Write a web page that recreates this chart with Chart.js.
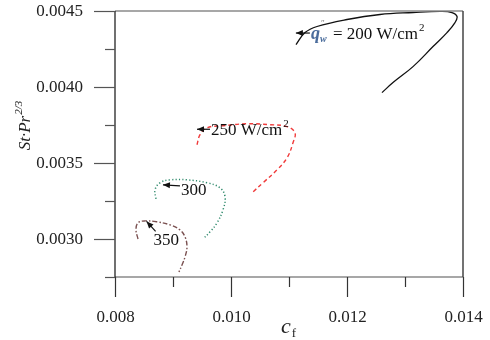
<!DOCTYPE html>
<html><head><meta charset="utf-8">
<script src="https://cdn.jsdelivr.net/npm/chart.js@4.4.1/dist/chart.umd.min.js"></script>
<style>html,body{margin:0;padding:0;background:#fff}#wrap{width:490px;height:340px}</style>
</head><body><div id="wrap"><canvas id="c" width="490" height="340"></canvas></div>
<script>
// ---- data ----
const cf200 = [0.011121,0.011276,0.011483,0.012000,0.012569,0.013138,0.013603,0.013810,0.013897,0.013862,0.013724,0.013483,0.013138,0.012793,0.012603];
const st200 = [0.004279,0.004358,0.004398,0.004444,0.004477,0.004490,0.004497,0.004490,0.004464,0.004424,0.004358,0.004266,0.004134,0.004029,0.003963];
const cf250 = [0.009414,0.009466,0.009586,0.009862,0.010276,0.010672,0.010966,0.011103,0.011069,0.010966,0.010793,0.010552,0.010379];
const st250 = [0.003620,0.003686,0.003732,0.003745,0.003758,0.003752,0.003739,0.003699,0.003633,0.003534,0.003455,0.003370,0.003310];
const cf300 = [0.008707,0.008690,0.008776,0.008948,0.009241,0.009586,0.009810,0.009897,0.009862,0.009759,0.009638,0.009517];
const st300 = [0.003264,0.003323,0.003370,0.003389,0.003389,0.003370,0.003337,0.003277,0.003192,0.003106,0.003047,0.003000];
const cf350 = [0.008397,0.008362,0.008397,0.008517,0.008724,0.008948,0.009121,0.009207,0.009241,0.009207,0.009155,0.009103];
const st350 = [0.003000,0.003060,0.003106,0.003119,0.003113,0.003093,0.003060,0.003014,0.002948,0.002882,0.002829,0.002783];
const seriesLabels = ['200 W/cm²','250 W/cm²','300','350'];
const xMajorTicks = [0.008,0.010,0.012,0.014];
const xMinorTicks = [0.009,0.011,0.013];
const yMajorTicks = [0.0030,0.0035,0.0040,0.0045];
const yMinorTicks = [0.00275,0.00325,0.00375,0.00425];

const pts = (xs, ys) => xs.map((x,i)=>({x:x,y:ys[i]}));
const SERIF = '"Liberation Serif","Times New Roman",serif';

const ds = (label, xs, ys, color, dash, w) => ({
  label, data: pts(xs,ys), showLine:true, borderColor:color, borderWidth:w,
  borderDash:dash, pointRadius:0, tension:0.4, fill:false
});

function isIn(v, arr){ return arr.some(a=>Math.abs(a-v)<1e-9); }

const framePlugin = {
  id:'frame',
  afterDraw(chart){
    const ctx = chart.ctx, a = chart.chartArea, xs = chart.scales.x, ys = chart.scales.y;
    ctx.save();
    // borders
    ctx.lineWidth = 1.5; ctx.strokeStyle = '#8a8a8a';
    ctx.beginPath(); ctx.moveTo(a.left, a.top); ctx.lineTo(a.right, a.top); ctx.stroke();
    ctx.beginPath(); ctx.moveTo(a.left, a.bottom); ctx.lineTo(a.right, a.bottom); ctx.stroke();
    ctx.strokeStyle = '#444'; ctx.lineWidth = 1.5;
    ctx.beginPath(); ctx.moveTo(a.right, a.top); ctx.lineTo(a.right, a.bottom); ctx.stroke();
    // left axis
    ctx.strokeStyle = '#111'; ctx.lineWidth = 1.2;
    ctx.beginPath(); ctx.moveTo(a.left, a.top); ctx.lineTo(a.left, a.bottom); ctx.stroke();
    // y ticks + labels
    ctx.strokeStyle = '#555'; ctx.lineWidth = 1.2;
    ctx.fillStyle = '#222'; ctx.font = '17px '+SERIF; ctx.textAlign='right'; ctx.textBaseline='middle';
    yMajorTicks.concat(yMinorTicks).forEach(v=>{
      const p = Math.round(ys.getPixelForValue(v))+0.5;
      const major = isIn(v,yMajorTicks);
      const L = major?21:10;
      ctx.beginPath(); ctx.moveTo(a.left-L, p); ctx.lineTo(a.left, p); ctx.stroke();
      if (major) ctx.fillText(v.toFixed(4), a.left-32, p);
    });
    // x ticks + labels
    ctx.strokeStyle = '#333'; ctx.textAlign='center';
    xMajorTicks.concat(xMinorTicks).forEach(v=>{
      const p = Math.round(xs.getPixelForValue(v))+0.5;
      const major = isIn(v,xMajorTicks);
      const L = major?20:10;
      ctx.beginPath(); ctx.moveTo(p, a.bottom); ctx.lineTo(p, a.bottom+L); ctx.stroke();
      if (major) ctx.fillText(v.toFixed(3), p, a.bottom+41);
    });
    // axis titles
    ctx.fillStyle = '#222';
    ctx.save();
    ctx.translate(26, (a.top+a.bottom)/2 - 18);
    ctx.rotate(-Math.PI/2);
    ctx.font = 'italic 17px '+SERIF;
    ctx.textBaseline = 'middle';
    const t1 = 'St·Pr';
    const w1 = ctx.measureText(t1).width;
    ctx.font = 'italic 11px '+SERIF;
    const w2 = ctx.measureText('2/3').width;
    const start = -(w1+w2)/2;
    ctx.font = 'italic 17px '+SERIF; ctx.textAlign='left';
    ctx.fillText(t1, start, 0);
    ctx.font = 'italic 11px '+SERIF;
    ctx.fillText('2/3', start+w1+1, -7);
    ctx.restore();
    ctx.font = 'italic 22px '+SERIF; ctx.textAlign='left'; ctx.textBaseline='alphabetic';
    const cx = (a.left+a.right)/2;
    const wc = ctx.measureText('c').width;
    ctx.fillText('c', cx-8, 333);
    ctx.font = '13px '+SERIF;
    ctx.fillText('f', cx-8+wc+1, 337);
    // annotations
    const arrow = (x1,y1,x2,y2) => {
      ctx.strokeStyle='#111'; ctx.fillStyle='#111'; ctx.lineWidth=1.2;
      ctx.beginPath(); ctx.moveTo(x1,y1); ctx.lineTo(x2,y2); ctx.stroke();
      const ang = Math.atan2(y2-y1,x2-x1), hl=7, hw=3;
      ctx.beginPath();
      ctx.moveTo(x2,y2);
      ctx.lineTo(x2-hl*Math.cos(ang)+hw*Math.sin(ang), y2-hl*Math.sin(ang)-hw*Math.cos(ang));
      ctx.lineTo(x2-hl*Math.cos(ang)-hw*Math.sin(ang), y2-hl*Math.sin(ang)+hw*Math.cos(ang));
      ctx.closePath(); ctx.fill();
    };
    const X = v=>xs.getPixelForValue(v), Y = v=>ys.getPixelForValue(v);
    ctx.textBaseline='middle'; ctx.textAlign='left';
    // 200
    let ax = X(0.01136), ay = Y(0.004355);
    arrow(ax, ay, ax-14, ay);
    ctx.fillStyle='#4a6c9c'; ctx.font='bold italic 18px '+SERIF;
    ctx.fillText('q', ax+1, ay+1);
    ctx.font='bold italic 10px '+SERIF; ctx.fillText('w', ax+10, ay+6);
    ctx.font='9px '+SERIF; ctx.fillStyle='#777'; ctx.fillText('″', ax+11, ay-9);
    ctx.fillStyle='#111'; ctx.font='17px '+SERIF;
    ctx.fillText('= 200 W/cm', ax+23, ay+1);
    let wt = ctx.measureText('= 200 W/cm').width;
    ctx.font='11px '+SERIF; ctx.fillText('2', ax+23+wt+1, ay-5);
    // 250
    ax = X(0.009638); ay = Y(0.003722);
    arrow(ax, ay, ax-13, ay);
    ctx.fillStyle='#111'; ctx.font='17px '+SERIF;
    ctx.fillText('250 W/cm', ax+1, ay+1);
    wt = ctx.measureText('250 W/cm').width;
    ctx.font='11px '+SERIF; ctx.fillText('2', ax+2+wt, ay-5);
    // 300
    ax = X(0.00912); ay = Y(0.003350);
    arrow(ax, ay, ax-17, ay-1);
    ctx.fillStyle='#111'; ctx.font='17px '+SERIF;
    ctx.fillText('300', ax+1, Y(0.003322));
    // 350
    ax = X(0.00870); ay = Y(0.003050);
    arrow(ax, ay, ax-9, ay-10);
    ctx.fillStyle='#111'; ctx.font='17px '+SERIF;
    ctx.fillText('350', ax-2, Y(0.002988));
    ctx.restore();
  }
};

new Chart(document.getElementById('c'), {
  type:'scatter',
  data:{ datasets:[
    ds(seriesLabels[0], cf200, st200, '#111111', [], 1.3),
    ds(seriesLabels[1], cf250, st250, '#f03a3a', [4,3], 1.4),
    ds(seriesLabels[2], cf300, st300, '#2f8a6c', [1.2,2.2], 1.5),
    ds(seriesLabels[3], cf350, st350, '#7a5050', [5,2,1.5,2], 1.4)
  ]},
  options:{
    responsive:false, animation:false, devicePixelRatio:1,
    layout:{padding:{top:11,right:27,left:0,bottom:0}},
    plugins:{legend:{display:false}, tooltip:{enabled:false}},
    scales:{
      x:{ type:'linear', min:0.008, max:0.014,
        afterBuildTicks(s){ s.ticks = xMajorTicks.map(v=>({value:v})); },
        afterFit(s){ s.height = 63; },
        grid:{display:false, drawTicks:false}, border:{display:false},
        ticks:{ display:false } },
      y:{ type:'linear', min:0.00275, max:0.0045,
        afterBuildTicks(s){ s.ticks = yMajorTicks.map(v=>({value:v})); },
        afterFit(s){ s.width = 115; },
        grid:{display:false, drawTicks:false}, border:{display:false},
        ticks:{ display:false } }
    }
  },
  plugins:[framePlugin]
});
</script></body></html>
